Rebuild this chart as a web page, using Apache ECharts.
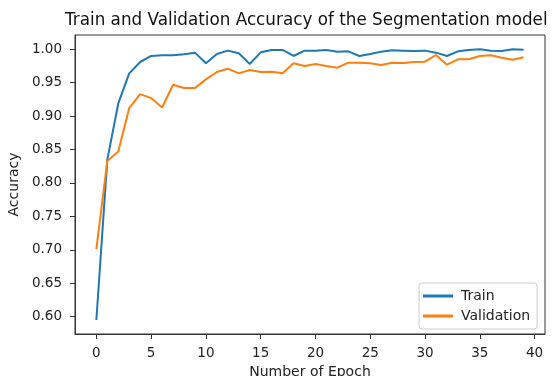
<!DOCTYPE html>
<html>
<head>
<meta charset="utf-8">
<script src="https://cdn.jsdelivr.net/npm/echarts@6/dist/echarts.min.js"></script>
<style>
html,body{margin:0;padding:0;background:#fff;}
#chart{width:555px;height:376px;}
</style>
</head>
<body>
<div id="chart"></div>
<script>
const epochs = Array.from({length: 40}, (_, i) => i);
const trainAcc = [0.595, 0.835, 0.919, 0.964, 0.981, 0.990, 0.991, 0.991, 0.9925, 0.995,
  0.979, 0.993, 0.998, 0.994, 0.978, 0.9955, 0.999, 0.999, 0.990, 0.998,
  0.998, 0.999, 0.9965, 0.997, 0.990, 0.993, 0.9965, 0.9985, 0.998, 0.9975,
  0.998, 0.995, 0.990, 0.997, 0.999, 1.000, 0.998, 0.9975, 1.000, 0.9995];
const valAcc = [0.701, 0.833, 0.847, 0.912, 0.933, 0.927, 0.913, 0.947, 0.942, 0.942,
  0.955, 0.966, 0.971, 0.964, 0.969, 0.966, 0.9665, 0.964, 0.979, 0.975,
  0.978, 0.975, 0.9725, 0.980, 0.980, 0.979, 0.9765, 0.980, 0.9795, 0.981,
  0.9815, 0.9915, 0.977, 0.985, 0.985, 0.990, 0.991, 0.9875, 0.9845, 0.988];
const xTicks = [0, 5, 10, 15, 20, 25, 30, 35, 40];
const yTicks = [0.60, 0.65, 0.70, 0.75, 0.80, 0.85, 0.90, 0.95, 1.00];
const seriesNames = ['Train', 'Validation'];
const titleText = 'Train and Validation Accuracy of the Segmentation model';
const xName = 'Number of Epoch';
const yName = 'Accuracy';

const font = 'DejaVu Sans';
const chart = echarts.init(document.getElementById('chart'), null, {renderer: 'canvas'});
chart.setOption({
  animation: false,
  backgroundColor: '#fff',
  title: {
    text: titleText, left: 65, top: 12, padding: 0,
    textStyle: {fontFamily: font, fontSize: 16.8, fontWeight: 'normal', color: '#111'}
  },
  grid: {left: 75, right: 10, top: 35, bottom: 42, show: true, borderColor: '#333', borderWidth: 1,
    backgroundColor: 'transparent', containLabel: false, outerBoundsMode: 'none'},
  legend: {
    data: seriesNames, orient: 'vertical', left: 419, top: 283,
    icon: 'rect', itemWidth: 30, itemHeight: 3, itemGap: 4,
    padding: [5, 7, 5, 4],
    backgroundColor: '#fff', borderColor: '#ccc', borderWidth: 1, borderRadius: 3,
    textStyle: {fontFamily: font, fontSize: 14, color: '#222', padding: [0, 0, 0, 3], lineHeight: 16}
  },
  xAxis: {
    type: 'value', min: -1.95, max: 40.95,
    name: xName, nameLocation: 'middle', nameGap: 30,
    nameTextStyle: {fontFamily: font, fontSize: 14, color: '#222'},
    axisLine: {show: true, onZero: false, lineStyle: {color: '#333'}},
    axisTick: {show: true, length: 5, inside: false, customValues: xTicks, lineStyle: {color: '#333'}},
    axisLabel: {customValues: xTicks, fontFamily: font, fontSize: 13.5, color: '#222', margin: 12,
      formatter: v => String(v)},
    splitLine: {show: false}
  },
  yAxis: {
    type: 'value', min: 0.574, max: 1.0214,
    name: yName, nameLocation: 'middle', nameGap: 44, nameRotate: 90,
    nameTextStyle: {fontFamily: font, fontSize: 14, color: '#222'},
    axisLine: {show: true, onZero: false, lineStyle: {color: '#333'}},
    axisTick: {show: true, length: 5, customValues: yTicks, lineStyle: {color: '#333'}},
    axisLabel: {customValues: yTicks, fontFamily: font, fontSize: 13.5, color: '#222', margin: 13,
      formatter: v => v.toFixed(2)},
    splitLine: {show: false}
  },
  series: [
    {name: seriesNames[0], type: 'line', data: epochs.map((e, i) => [e, trainAcc[i]]),
      symbol: 'none', lineStyle: {color: '#1f77b4', width: 2}, itemStyle: {color: '#1f77b4'}},
    {name: seriesNames[1], type: 'line', data: epochs.map((e, i) => [e, valAcc[i]]),
      symbol: 'none', lineStyle: {color: '#ff7f0e', width: 2}, itemStyle: {color: '#ff7f0e'}}
  ]
});
</script>
</body>
</html>
